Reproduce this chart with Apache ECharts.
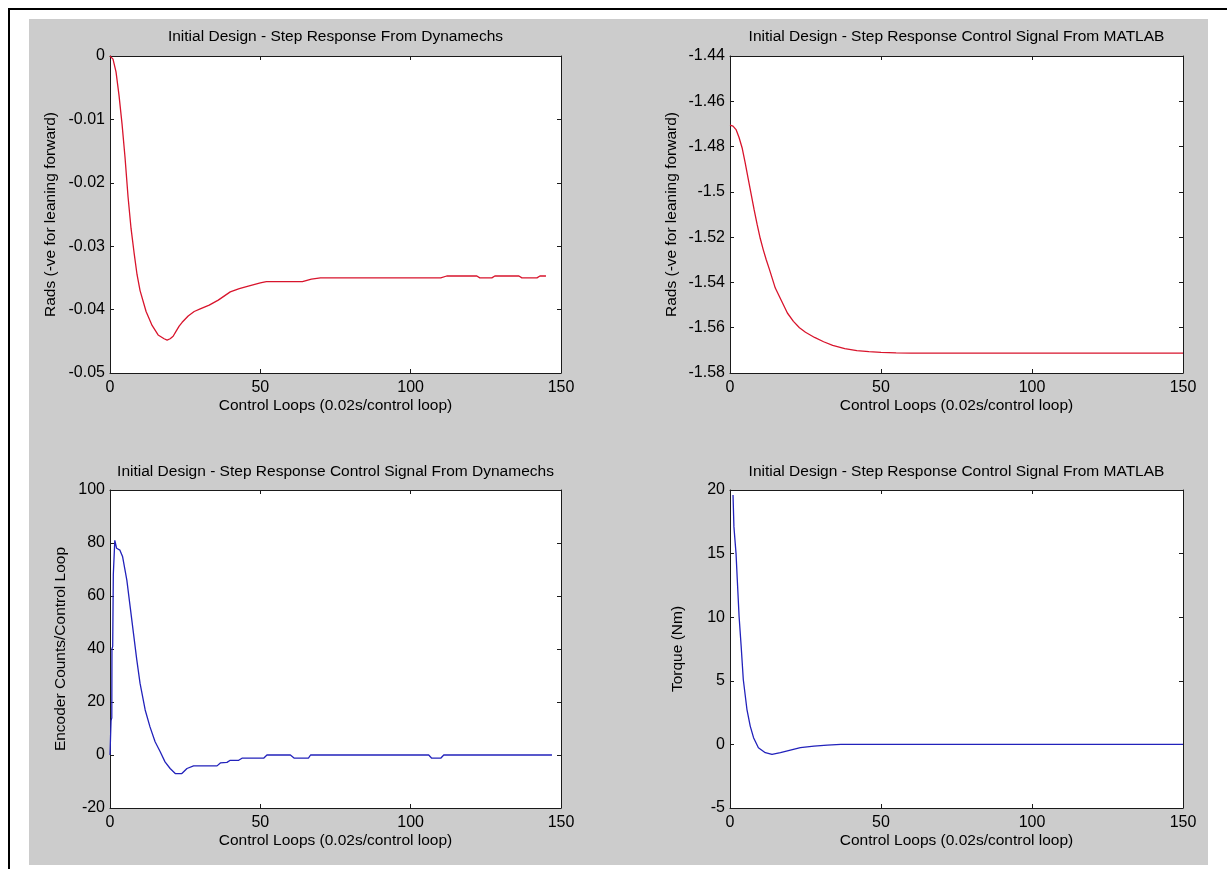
<!DOCTYPE html>
<html><head><meta charset="utf-8">
<script src="https://cdn.jsdelivr.net/npm/echarts@6/dist/echarts.min.js"></script>
<style>html,body{margin:0;padding:0;background:#fff;overflow:hidden}#c{width:1227px;height:869px}</style>
</head><body><div id="c"></div>
<script>
// ---- data ----
const titles = [
  'Initial Design - Step Response From Dynamechs',
  'Initial Design - Step Response Control Signal From MATLAB',
  'Initial Design - Step Response Control Signal From Dynamechs',
  'Initial Design - Step Response Control Signal From MATLAB'
];
const xName = 'Control Loops (0.02s/control loop)';
const yNames = ['Rads (-ve for leaning forward)', 'Rads (-ve for leaning forward)', 'Encoder Counts/Control Loop', 'Torque (Nm)'];

const tlLoops = [0, 1, 2, 3, 4, 5, 6, 7, 8, 9, 10, 12, 14, 16, 18, 19, 20, 21, 22, 23, 24, 26, 28, 30, 33, 36, 40, 43, 46, 50, 52, 64, 67, 70, 110, 112, 122, 123, 127, 128, 136, 137, 142, 143, 145];
const tlRads  = [0, -0.0005, -0.0025, -0.0062, -0.0107, -0.016, -0.0222, -0.0272, -0.031, -0.0345, -0.037, -0.0403, -0.0425, -0.044, -0.0446, -0.0448, -0.0446, -0.0442, -0.0434, -0.0426, -0.042, -0.041, -0.0403, -0.0399, -0.0393, -0.0385, -0.0372, -0.0367, -0.0363, -0.0358, -0.0356, -0.0356, -0.0352, -0.035, -0.035, -0.0347, -0.0347, -0.035, -0.035, -0.0347, -0.0347, -0.035, -0.035, -0.0347, -0.0347];

const trLoops = [0, 1, 2, 3, 4, 5, 6, 7, 8, 9, 10, 11, 12, 13, 15, 17, 19, 21, 23, 25, 28, 31, 34, 38, 42, 46, 50, 55, 60, 150];
const trRads  = [-1.4705, -1.471, -1.4725, -1.476, -1.4805, -1.487, -1.494, -1.501, -1.508, -1.5145, -1.5205, -1.5255, -1.530, -1.534, -1.5425, -1.548, -1.5535, -1.5572, -1.560, -1.562, -1.5643, -1.5662, -1.5678, -1.5692, -1.5701, -1.5706, -1.5709, -1.5711, -1.5712, -1.5712];

const blLoops  = [0, 0.3, 0.35, 0.6, 0.65, 0.9, 1.1, 1.6, 2.2, 3.3, 4.2, 5.6, 6.7, 7.8, 8.9, 10, 11.7, 13.3, 15, 16.7, 18.3, 20, 21.7, 23.9, 25.6, 27.8, 35.6, 36.7, 38.9, 40, 42.8, 43.9, 51.1, 52.2, 60, 61.3, 66, 66.7, 106, 107, 110, 111, 147];
const blCounts = [0, 0, 13, 14, 40, 41, 68, 81, 78, 77.3, 74.8, 66, 56, 46, 36, 27, 17, 10.6, 5, 1.2, -2.6, -5.1, -7, -7, -5.1, -4.1, -4.1, -3, -2.8, -2, -2, -1.2, -1.2, 0, 0, -1.2, -1.2, 0, 0, -1.2, -1.2, 0, 0];

const brLoops  = [1, 1.3, 2, 2.4, 3, 3.7, 4.4, 5.6, 6.7, 7.8, 9.4, 11.7, 13.9, 16.7, 20, 23.3, 27.8, 32.2, 36.7, 150];
const brTorque = [19.6, 17.1, 15, 13, 10.1, 7.7, 5.1, 2.76, 1.44, 0.53, -0.26, -0.65, -0.79, -0.65, -0.45, -0.26, -0.13, -0.05, 0, 0];

const yMins = [-0.05, -1.58, -20, -5];
const yMaxs = [0, -1.44, 100, 20];
const yIntervals = [0.01, 0.02, 20, 5];
const xMin = 0, xMax = 150, xInterval = 50;

// ---- layout / style ----
const FONT = '"Liberation Sans", Arial, sans-serif';
const grids = [
  {left: 110, top: 56, width: 451, height: 317},
  {left: 730, top: 56, width: 453, height: 317},
  {left: 110, top: 490, width: 451, height: 318},
  {left: 730, top: 490, width: 453, height: 318}
];
const yGaps = [51, 50, 41, 44];
const titleY = [37, 37, 472, 472];
const lineColors = ['#d8142c', '#d8142c', '#2222bb', '#2222bb'];
const AX = '#1a1a1a';

function zip(a, b) { return a.map((v, i) => [v, b[i]]); }
const seriesData = [zip(tlLoops, tlRads), zip(trLoops, trRads), zip(blLoops, blCounts), zip(brLoops, brTorque)];

function fmt(v) { return String(+v.toFixed(3)); }

const xAxes = [], yAxes = [], series = [], graphics = [];
graphics.push({type: 'rect', z: -20, silent: true, shape: {x: 9, y: 9, width: 1260, height: 900}, style: {fill: '#ffffff', stroke: '#000', lineWidth: 2}});
graphics.push({type: 'rect', z: -10, silent: true, shape: {x: 29, y: 19, width: 1179, height: 846}, style: {fill: '#cccccc'}});

grids.forEach((g, i) => {
  const common = {type: 'value', gridIndex: i, min: xMin, max: xMax, interval: xInterval,
    axisLine: {show: true, onZero: false, lineStyle: {color: AX, width: 1}},
    axisTick: {show: true, inside: true, length: 4, lineStyle: {color: AX}},
    splitLine: {show: false}};
  xAxes.push(Object.assign({}, common, {position: 'bottom', name: xName, nameLocation: 'middle', nameGap: 25,
    nameTextStyle: {color: '#000', fontSize: 15.5, fontFamily: FONT},
    axisLabel: {show: true, margin: 7, color: '#000', fontSize: 16, fontFamily: FONT}}));
  xAxes.push(Object.assign({}, common, {position: 'top', axisLabel: {show: false}}));
  const yc = {type: 'value', gridIndex: i, min: yMins[i], max: yMaxs[i], interval: yIntervals[i],
    axisLine: {show: true, onZero: false, lineStyle: {color: AX, width: 1}},
    axisTick: {show: true, inside: true, length: 4, lineStyle: {color: AX}},
    splitLine: {show: false}};
  yAxes.push(Object.assign({}, yc, {position: 'left', name: yNames[i], nameLocation: 'middle', nameGap: yGaps[i], nameRotate: 90,
    nameTextStyle: {color: '#000', fontSize: 15.5, fontFamily: FONT},
    axisLabel: {show: true, margin: 5, color: '#000', fontSize: 16, fontFamily: FONT, formatter: fmt}}));
  yAxes.push(Object.assign({}, yc, {position: 'right', axisLabel: {show: false}}));
  series.push({type: 'line', xAxisIndex: i * 2, yAxisIndex: i * 2, data: seriesData[i], showSymbol: false,
    symbol: 'none', smooth: false, lineStyle: {color: lineColors[i], width: 1.3}, animation: false});
  graphics.push({type: 'text', z: 10, silent: true, x: g.left + g.width / 2, y: titleY[i],
    style: {text: titles[i], fill: '#000', font: '15.5px ' + FONT, align: 'center', verticalAlign: 'middle',
      textAlign: 'center', textVerticalAlign: 'middle'}});
});

const chart = echarts.init(document.getElementById('c'), null, {renderer: 'canvas'});
chart.setOption({
  backgroundColor: '#ffffff',
  animation: false,
  grid: grids.map(g => Object.assign({show: true, backgroundColor: '#ffffff', borderWidth: 0, containLabel: false}, g)),
  xAxis: xAxes,
  yAxis: yAxes,
  series: series,
  graphic: graphics
});
</script>
</body></html>
